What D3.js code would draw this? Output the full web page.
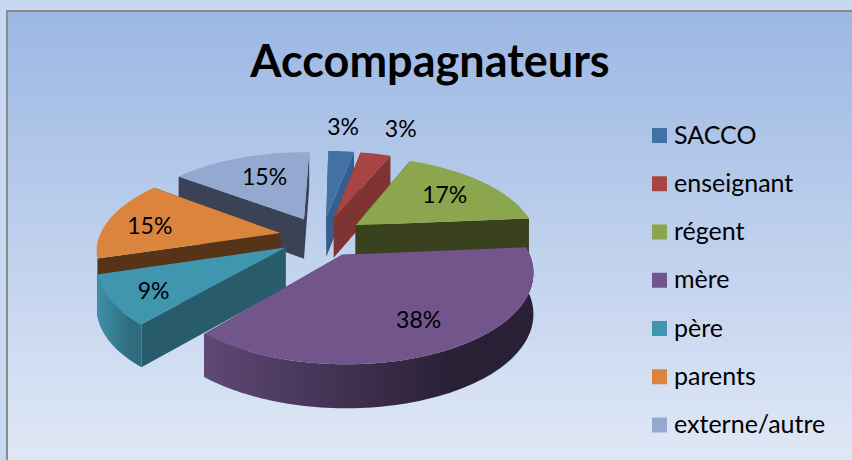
<!DOCTYPE html>
<html><head><meta charset="utf-8">
<script src="https://cdn.jsdelivr.net/npm/d3@7"></script>
<style>html,body{margin:0;padding:0;background:#c6d9f0;overflow:hidden}text{font-family:Lato,"Noto Sans",sans-serif;fill:#000}</style>
</head><body><svg id="c" width="852" height="460"></svg>
<script>
const titleText = "Accompagnateurs";
const categories = ["SACCO","enseignant","régent","mère","père","parents","externe/autre"];
const shares = [2.75,3.25,17.4,37.6,9,15,15];
const topColors = ["#4271A6","#A84542","#8BA64C","#71558B","#3F96AE","#DB843D","#93A9CF"];
const sideColors = ["#355E8C","#7F3333","#3A411E","#4A3860","#295C6B","#573418","#3B4255"];
const wallStart = ["#355E8C","#7F3333","#3A411E","#5F4875","#3F90A8","#573418","#3B4255"];
const wallEnd = ["#355E8C","#7F3333","#3A411E","#2A2036","#2F6C80","#573418","#3B4255"];
const paintOrder = [0,1,6,5,2,4,3];
const labelRadius = [1.32,1.32,0.6,0.58,0.88,0.7,0.5];
const labelShift = [[-2,-8],[14,-9],[10,-4],[20,13],[20,-4],[-10,2],[-5,-11]];

const W=852,H=460;
const svg=d3.select("#c");
const defs=svg.append("defs");
const bg=defs.append("linearGradient").attr("id","bg").attr("x1",0).attr("y1",0).attr("x2",0).attr("y2",1);
bg.append("stop").attr("offset",0).attr("stop-color","#9BB7E3");
bg.append("stop").attr("offset",1).attr("stop-color","#E1E9F6");
svg.append("rect").attr("x",7).attr("y",11).attr("width",W).attr("height",H)
  .attr("fill","url(#bg)").attr("stroke","#8C8C8C").attr("stroke-width",2);

svg.append("text").attr("x",430).attr("y",77).attr("text-anchor","middle")
  .attr("font-weight",700).attr("font-size",45).text(titleText);

const cx=322,cy=236.5,rx=181,ry=84,persp=0.17,explode=0.235,depth=40;
const startDeg=1;
const pie=d3.pie().sort(null).value(d=>d).startAngle(startDeg*Math.PI/180).endAngle((startDeg+360)*Math.PI/180);
const arcs=pie(shares);
const total=d3.sum(shares);
const line=d3.line().x(d=>d[0]).y(d=>d[1]);

function project(u,v,z){
  const s=1/(1-persp*v);
  return [cx+rx*u*s, cy+ry*v*s+z*depth*(1+0.08*v)];
}
function polar(a,r){return [r*Math.sin(a),-r*Math.cos(a)];}
function apex(d){const m=(d.startAngle+d.endAngle)/2;return polar(m,explode);}
function rimPoint(d,a,r,z){const o=apex(d),p=polar(a,r);return project(o[0]+p[0],o[1]+p[1],z);}
function anglesOf(d){const n=Math.max(8,Math.ceil((d.endAngle-d.startAngle)*40));
  return d3.range(n+1).map(i=>d.startAngle+(d.endAngle-d.startAngle)*i/n);}
function facesViewer(d){const m=(d.startAngle+d.endAngle)/2;return Math.cos(m)<0;}

arcs.forEach((d,i)=>{
  const g=defs.append("linearGradient").attr("id","wall"+i).attr("x1",0).attr("x2",1).attr("y1",0).attr("y2",0);
  g.append("stop").attr("offset",0).attr("stop-color",wallStart[i]);
  g.append("stop").attr("offset",0.75).attr("stop-color",wallEnd[i]);
});

const slices=svg.selectAll("g.slice").data(paintOrder).join("g").attr("class","slice");
slices.each(function(i){
  const d=arcs[i],g=d3.select(this),as=anglesOf(d);
  const o=apex(d),top=project(o[0],o[1],0),bot=project(o[0],o[1],1);
  [d.startAngle,d.endAngle].forEach(a=>{
    g.append("path").attr("fill",sideColors[i])
     .attr("d",line([top,rimPoint(d,a,1,0),rimPoint(d,a,1,1),bot])+"Z");
  });
  const upper=as.map(a=>rimPoint(d,a,1,0)),lower=as.map(a=>rimPoint(d,a,1,1)).reverse();
  if(facesViewer(d)) g.append("path").attr("fill",`url(#wall${i})`).attr("d",line(upper.concat(lower))+"Z");
  g.append("path").attr("fill",topColors[i]).attr("d",line([top].concat(upper))+"Z");
});

svg.selectAll("text.pct").data(arcs).join("text").attr("class","pct")
  .attr("font-size",23).attr("text-anchor","middle").attr("dominant-baseline","central")
  .attr("transform",(d,i)=>{const m=(d.startAngle+d.endAngle)/2,p=rimPoint(d,m,labelRadius[i],0);
    return `translate(${p[0]+labelShift[i][0]},${p[1]+labelShift[i][1]})`;})
  .text(d=>Math.round(d.value/total*100)+"%");

const legendY=d3.scalePoint().domain(categories).range([135.5,425]);
const leg=svg.selectAll("g.leg").data(categories).join("g").attr("class","leg")
  .attr("transform",d=>`translate(652,${legendY(d)})`);
leg.append("rect").attr("x",0).attr("y",-7.5).attr("width",15).attr("height",15).attr("fill",(d,i)=>topColors[i]);
leg.append("text").attr("x",22).attr("y",8).attr("font-size",25).text(d=>d);
</script></body></html>
